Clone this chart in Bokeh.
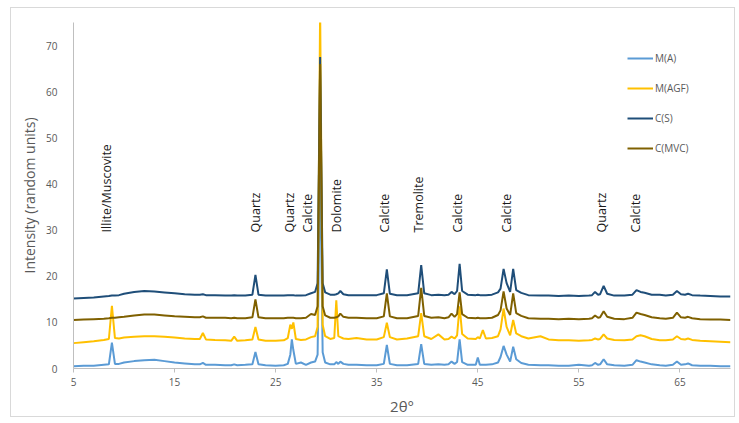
from bokeh.plotting import figure
from bokeh.models import Range1d, FixedTicker, Legend, LegendItem, ColumnDataSource
from bokeh.core.properties import value
from bokeh.embed import file_html
from bokeh.resources import INLINE
import math

# ---- data ----
two_theta = [
    5, 6, 7, 8, 8.5, 8.8, 9.1, 9.5, 10, 11,
    12, 13, 14, 15, 16, 17, 17.5, 17.8, 18.1, 19,
    20, 20.6, 20.9, 21.2, 22, 22.7, 23.0, 23.3, 24, 25,
    25.8, 26.2, 26.45, 26.6, 26.75, 27.0, 27.5, 28, 28.5, 28.9,
    29.15, 29.4, 29.65, 29.9, 30.4, 30.8, 31.0, 31.2, 31.4, 31.7,
    32.2, 33, 34, 35, 35.7, 36.0, 36.3, 37, 38, 39.1,
    39.4, 39.7, 40.4, 41.1, 41.7, 42.1, 42.4, 42.7, 42.95, 43.2,
    43.45, 44, 44.8, 45.0, 45.2, 45.5, 45.8, 46.4, 47.0, 47.25,
    47.55, 47.85, 48.2, 48.5, 48.8, 49.3, 50, 51.2, 52, 53,
    54, 55, 56, 56.3, 56.6, 56.9, 57.1, 57.45, 57.8, 58.5,
    59.5, 60.3, 60.7, 61.1, 61.5, 62.2, 63, 63.6, 64.3, 64.7,
    65.1, 65.5, 65.8, 66.2, 67, 68, 69, 70,
]

m_a = [
    0.5, 0.6, 0.6, 0.8, 0.9, 5.6, 1.0, 1.0, 1.3, 1.6,
    1.8, 1.9, 1.6, 1.3, 1.1, 0.9, 0.9, 1.2, 0.8, 0.8,
    0.7, 0.7, 0.9, 0.7, 0.8, 0.9, 3.6, 0.9, 0.7, 0.6,
    0.7, 1.0, 3.0, 6.3, 4.0, 1.0, 1.3, 0.8, 1.3, 1.5,
    3.0, 45, 3.5, 1.3, 0.9, 0.9, 1.4, 1.0, 1.5, 1.0,
    0.8, 0.8, 0.7, 0.7, 1.0, 5.1, 1.0, 0.7, 0.7, 1.0,
    5.3, 1.0, 0.8, 0.9, 0.8, 0.9, 1.5, 1.0, 1.4, 6.3,
    1.4, 0.8, 0.8, 2.4, 0.8, 0.8, 0.8, 0.9, 1.3, 2.5,
    4.9, 3.0, 1.5, 4.7, 2.0, 1.2, 0.8, 0.7, 0.7, 0.6,
    0.6, 0.8, 0.6, 0.7, 1.2, 0.8, 0.9, 2.0, 0.9, 0.7,
    0.6, 0.8, 1.8, 1.5, 1.3, 0.9, 0.7, 0.6, 0.8, 1.5,
    0.8, 0.9, 1.1, 0.7, 0.6, 0.6, 0.5, 0.5,
]

m_agf = [
    5.5, 5.7, 5.9, 6.2, 6.4, 13.6, 6.6, 6.5, 6.7, 6.9,
    7.0, 7.0, 6.9, 6.7, 6.5, 6.4, 6.4, 7.7, 6.3, 6.2,
    6.1, 6.0, 6.9, 6.0, 6.1, 6.3, 9.0, 6.3, 6.0, 6.0,
    6.1, 6.6, 9.5, 8.6, 10.0, 6.4, 6.2, 6.3, 6.8, 7.0,
    9.0, 78, 9.5, 7.0, 6.4, 6.6, 14.8, 7.0, 6.8, 6.5,
    6.4, 6.6, 6.3, 6.3, 6.8, 9.9, 6.8, 6.3, 6.5, 7.0,
    12.0, 7.0, 6.4, 7.4, 6.3, 6.4, 6.9, 6.5, 7.2, 13.5,
    7.5, 6.5, 6.4, 6.8, 6.5, 8.3, 6.5, 6.6, 7.0, 8.5,
    13.0, 9.0, 7.2, 10.5, 7.6, 7.0, 6.5, 7.0, 6.3, 6.1,
    6.1, 6.0, 6.1, 6.2, 6.5, 6.3, 6.4, 7.4, 6.5, 6.2,
    6.1, 6.3, 7.0, 7.2, 7.0, 6.4, 6.1, 6.1, 6.3, 7.0,
    6.4, 6.3, 6.5, 6.2, 6.0, 5.9, 5.8, 5.7,
]

c_s = [
    15.2, 15.3, 15.4, 15.6, 15.7, 15.8, 15.8, 15.9, 16.2, 16.6,
    16.8, 16.7, 16.5, 16.3, 16.1, 16.0, 16.0, 16.1, 15.9, 15.9,
    15.8, 15.8, 15.9, 15.8, 15.8, 16.0, 20.3, 16.0, 15.8, 15.8,
    15.8, 15.9, 15.9, 15.9, 15.9, 15.8, 15.8, 15.9, 16.3, 16.6,
    18.5, 67.5, 18.5, 16.5, 16.0, 16.0, 16.1, 16.3, 16.8, 16.1,
    15.9, 15.9, 15.9, 15.9, 16.3, 21.5, 16.2, 15.9, 15.9, 16.3,
    22.4, 16.3, 15.9, 16.0, 15.9, 16.0, 16.6, 16.1, 16.8, 22.7,
    16.8, 16.0, 15.9, 16.0, 15.9, 15.9, 15.9, 16.0, 16.5, 17.3,
    21.6, 18.5, 16.6, 21.6, 17.0, 16.4, 15.9, 15.8, 15.8, 15.7,
    15.8, 15.7, 15.8, 15.9, 16.6, 16.0, 16.1, 17.9, 16.2, 15.8,
    15.8, 16.0, 17.0, 16.6, 16.4, 16.0, 16.0, 15.8, 16.0, 16.8,
    16.1, 16.0, 16.2, 15.9, 15.8, 15.7, 15.6, 15.6,
]

c_mvc = [
    10.5, 10.6, 10.7, 10.8, 10.9, 11.0, 11.0, 11.1, 11.2, 11.5,
    11.7, 11.7, 11.5, 11.3, 11.2, 11.1, 11.1, 11.3, 11.0, 11.0,
    11.0, 10.9, 11.0, 10.9, 10.9, 11.1, 15.0, 11.1, 10.9, 10.9,
    10.9, 11.0, 11.0, 11.0, 11.0, 10.9, 10.9, 11.0, 11.8, 11.6,
    13.5, 66, 13.5, 11.5, 11.0, 11.0, 11.1, 11.3, 11.9, 11.2,
    11.0, 11.0, 10.9, 10.9, 11.3, 16.3, 11.3, 10.9, 10.9, 11.4,
    17.5, 11.4, 11.0, 11.1, 10.9, 11.1, 11.9, 11.2, 11.8, 16.5,
    11.8, 11.0, 10.9, 11.0, 10.9, 10.9, 10.9, 11.0, 11.6, 12.6,
    16.7, 13.0, 11.6, 16.3, 12.0, 11.4, 10.9, 10.8, 10.8, 10.7,
    10.8, 10.7, 10.8, 10.9, 11.5, 11.0, 11.1, 12.4, 11.2, 10.8,
    10.7, 11.0, 12.1, 11.8, 11.6, 11.1, 10.9, 10.8, 11.0, 12.1,
    11.1, 11.0, 11.2, 10.9, 10.7, 10.6, 10.6, 10.5,
]

series_names = ["M(A)", "M(AGF)", "C(S)", "C(MVC)"]

mineral_labels = ["Illite/Muscovite", "Quartz", "Quartz", "Calcite", "Dolomite",
                  "Calcite", "Tremolite", "Calcite", "Calcite", "Quartz", "Calcite"]
mineral_x = [8.3, 23.0, 26.4, 28.2, 31.0, 35.8, 39.1, 43.0, 47.8, 57.2, 60.6]

x_ticks = [5, 15, 25, 35, 45, 55, 65]
y_ticks = [0, 10, 20, 30, 40, 50, 60, 70]

# ---- figure ----
FONT = "Open Sans"
GREY = "#595959"

p = figure(width=725, height=410, x_range=Range1d(5, 70), y_range=Range1d(0, 75),
           output_backend="svg", toolbar_location=None,
           min_border_left=62, min_border_right=6, min_border_top=14, min_border_bottom=50)
p.styles = {"border": "1px solid #D9D9D9", "margin-left": "10px", "margin-top": "7px"}
p.outline_line_color = None
p.xgrid.grid_line_color = None
p.ygrid.grid_line_color = None

p.xaxis.ticker = FixedTicker(ticks=x_ticks)
p.yaxis.ticker = FixedTicker(ticks=y_ticks)
for ax in (p.xaxis[0], p.yaxis[0]):
    ax.axis_line_color = "#BFBFBF"
    ax.major_label_text_font = FONT
    ax.major_label_text_font_size = "10px"
    ax.major_label_text_color = GREY
    ax.minor_tick_line_color = None
    ax.axis_label_text_font = FONT
    ax.axis_label_text_font_style = "normal"
    ax.axis_label_text_color = GREY
p.xaxis.major_tick_line_color = "#BFBFBF"
p.xaxis.major_tick_in = 0
p.xaxis.major_tick_out = 4
p.xaxis.major_label_standoff = 5
p.yaxis.major_tick_line_color = None
p.yaxis.major_label_standoff = 10
p.xaxis.axis_label = "2θ°"
p.xaxis.axis_label_text_font_size = "15px"
p.xaxis.axis_label_standoff = 7
p.yaxis.axis_label = "Intensity (random units)"
p.yaxis.axis_label_text_font_size = "14px"
p.yaxis.axis_label_standoff = 4

colors = ["#5B9BD5", "#FFC000", "#1F4E79", "#7F6000"]
ys = [m_a, m_agf, c_s, c_mvc]
items = []
for name, yv, col in zip(series_names, ys, colors):
    r = p.line(two_theta, yv, line_color=col, line_width=2)
    items.append(LegendItem(label=name, renderers=[r]))

legend = Legend(items=items, location=(554, 212), padding=0, margin=0,
                border_line_color=None, background_fill_alpha=0,
                glyph_width=26, glyph_height=16, label_height=16, spacing=14,
                label_standoff=2, label_text_font=FONT, label_text_font_size="10px",
                label_text_color=GREY)
p.add_layout(legend)

src = ColumnDataSource(dict(x=mineral_x, y=[29.5] * len(mineral_x), t=mineral_labels))
p.text(x="x", y="y", text="t", source=src, angle=math.pi / 2,
       text_align="left", text_baseline="middle",
       text_font=value(FONT), text_font_size="12.5px", text_color="#1A1A1A")

open("out.html", "w").write(file_html(p, INLINE))
